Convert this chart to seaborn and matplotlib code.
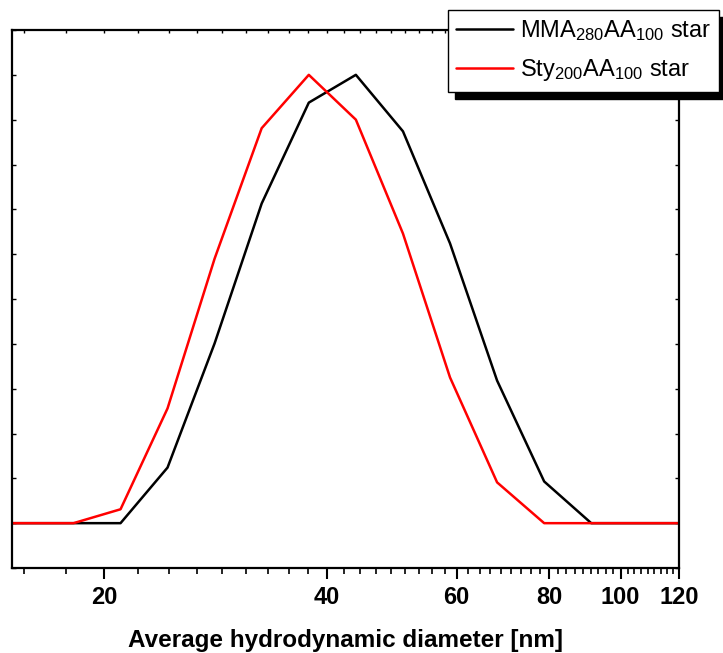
import numpy as np
import pandas as pd
import matplotlib
matplotlib.use("Agg")
import matplotlib.pyplot as plt
from matplotlib.ticker import FixedLocator, NullFormatter, FixedFormatter
import seaborn as sns

# Size bins of the DLS instrument (nm) and intensity-weighted distributions (%)
diameter_nm = [13.54, 15.69, 18.17, 21.04, 24.36, 28.21, 32.67, 37.84,
               43.82, 50.75, 58.77, 68.06, 78.82, 91.28, 105.7, 122.4]
mma_star = [0, 0, 0, 0, 12.4, 40.1, 71.3, 93.8,
            100, 87.4, 62.4, 31.8, 9.3, 0, 0, 0]
sty_star = [0, 0, 0, 3.1, 25.6, 59.0, 88.1, 100,
            90.0, 64.6, 32.5, 9.1, 0, 0, 0, 0]
series_labels = ["MMA$_{280}$AA$_{100}$ star", "Sty$_{200}$AA$_{100}$ star"]
series_colors = ["#000000", "#ff0000"]
major_ticks = [20, 40, 60, 80, 100, 120]
major_labels = ["20", "40", "60", "80", "100", "120"]

df = pd.concat([
    pd.DataFrame({"d": diameter_nm, "v": mma_star, "s": series_labels[0]}),
    pd.DataFrame({"d": diameter_nm, "v": sty_star, "s": series_labels[1]}),
])

sns.set_style("white")
plt.rcParams["font.family"] = ["Liberation Sans", "DejaVu Sans"]
plt.rcParams["mathtext.default"] = "regular"
plt.rcParams["text.color"] = "black"
plt.rcParams["axes.labelcolor"] = "black"
plt.rcParams["xtick.color"] = "black"
plt.rcParams["ytick.color"] = "black"

fig = plt.figure(figsize=(7.23, 6.53), dpi=100)
ax = fig.add_axes([12 / 723, 1 - 568 / 653, 667 / 723, 538 / 653])

sns.lineplot(data=df, x="d", y="v", hue="s", palette=series_colors,
             sort=False, lw=1.8, ax=ax, legend=False)

ax.set_xscale("log")
ax.set_xlim(15, 120)
ax.set_ylim(-10, 110)

# minor ticks: eight subdivisions per 20 nm step
minor = [20 + k * 20 / 9 for k in range(-2, 46) if 15 <= 20 + k * 20 / 9 <= 120]
ax.xaxis.set_major_locator(FixedLocator(major_ticks))
ax.xaxis.set_major_formatter(FixedFormatter(major_labels))
ax.xaxis.set_minor_locator(FixedLocator(minor))
ax.xaxis.set_minor_formatter(NullFormatter())
ax.tick_params(axis="x", which="major", direction="out", length=8, width=1.5,
               labelsize=17, pad=5, bottom=True, colors="black")
ax.tick_params(axis="x", which="minor", direction="out", length=4, width=1.2,
               bottom=True, colors="black")
for lab in ax.get_xticklabels():
    lab.set_fontweight("bold")

ax.yaxis.set_major_locator(FixedLocator(np.arange(-10, 111, 10)))
ax.tick_params(axis="y", which="major", direction="in", length=3, width=1,
               left=True, right=True, labelleft=False)

top = ax.secondary_xaxis("top")
top.xaxis.set_major_locator(FixedLocator(major_ticks))
top.xaxis.set_minor_locator(FixedLocator(minor))
top.tick_params(which="both", direction="in", length=2.5, width=1,
                labeltop=False)
top.spines["top"].set_visible(False)

for sp in ax.spines.values():
    sp.set_linewidth(1.6)
    sp.set_color("black")

ax.set_xlabel("Average hydrodynamic diameter [nm]", fontsize=17.5,
              fontweight="bold", labelpad=14, color="black")
ax.set_ylabel("")

handles = [plt.Line2D([], [], color=c, lw=1.8) for c in series_colors]
leg = fig.legend(handles, series_labels, loc="upper right",
                 bbox_to_anchor=(719 / 723, 1 - 10 / 653),
                 bbox_transform=fig.transFigure, fontsize=17,
                 frameon=True, fancybox=False, edgecolor="black",
                 framealpha=1, borderaxespad=0, handlelength=2.4,
                 handletextpad=0.3, borderpad=0.35, labelspacing=0.6,
                 shadow={"color": "black", "alpha": 1, "ox": 5, "oy": -5})
leg.get_frame().set_linewidth(1.0)
for t in leg.get_texts():
    t.set_color("black")

fig.savefig("out.png", dpi=100, facecolor="white")
